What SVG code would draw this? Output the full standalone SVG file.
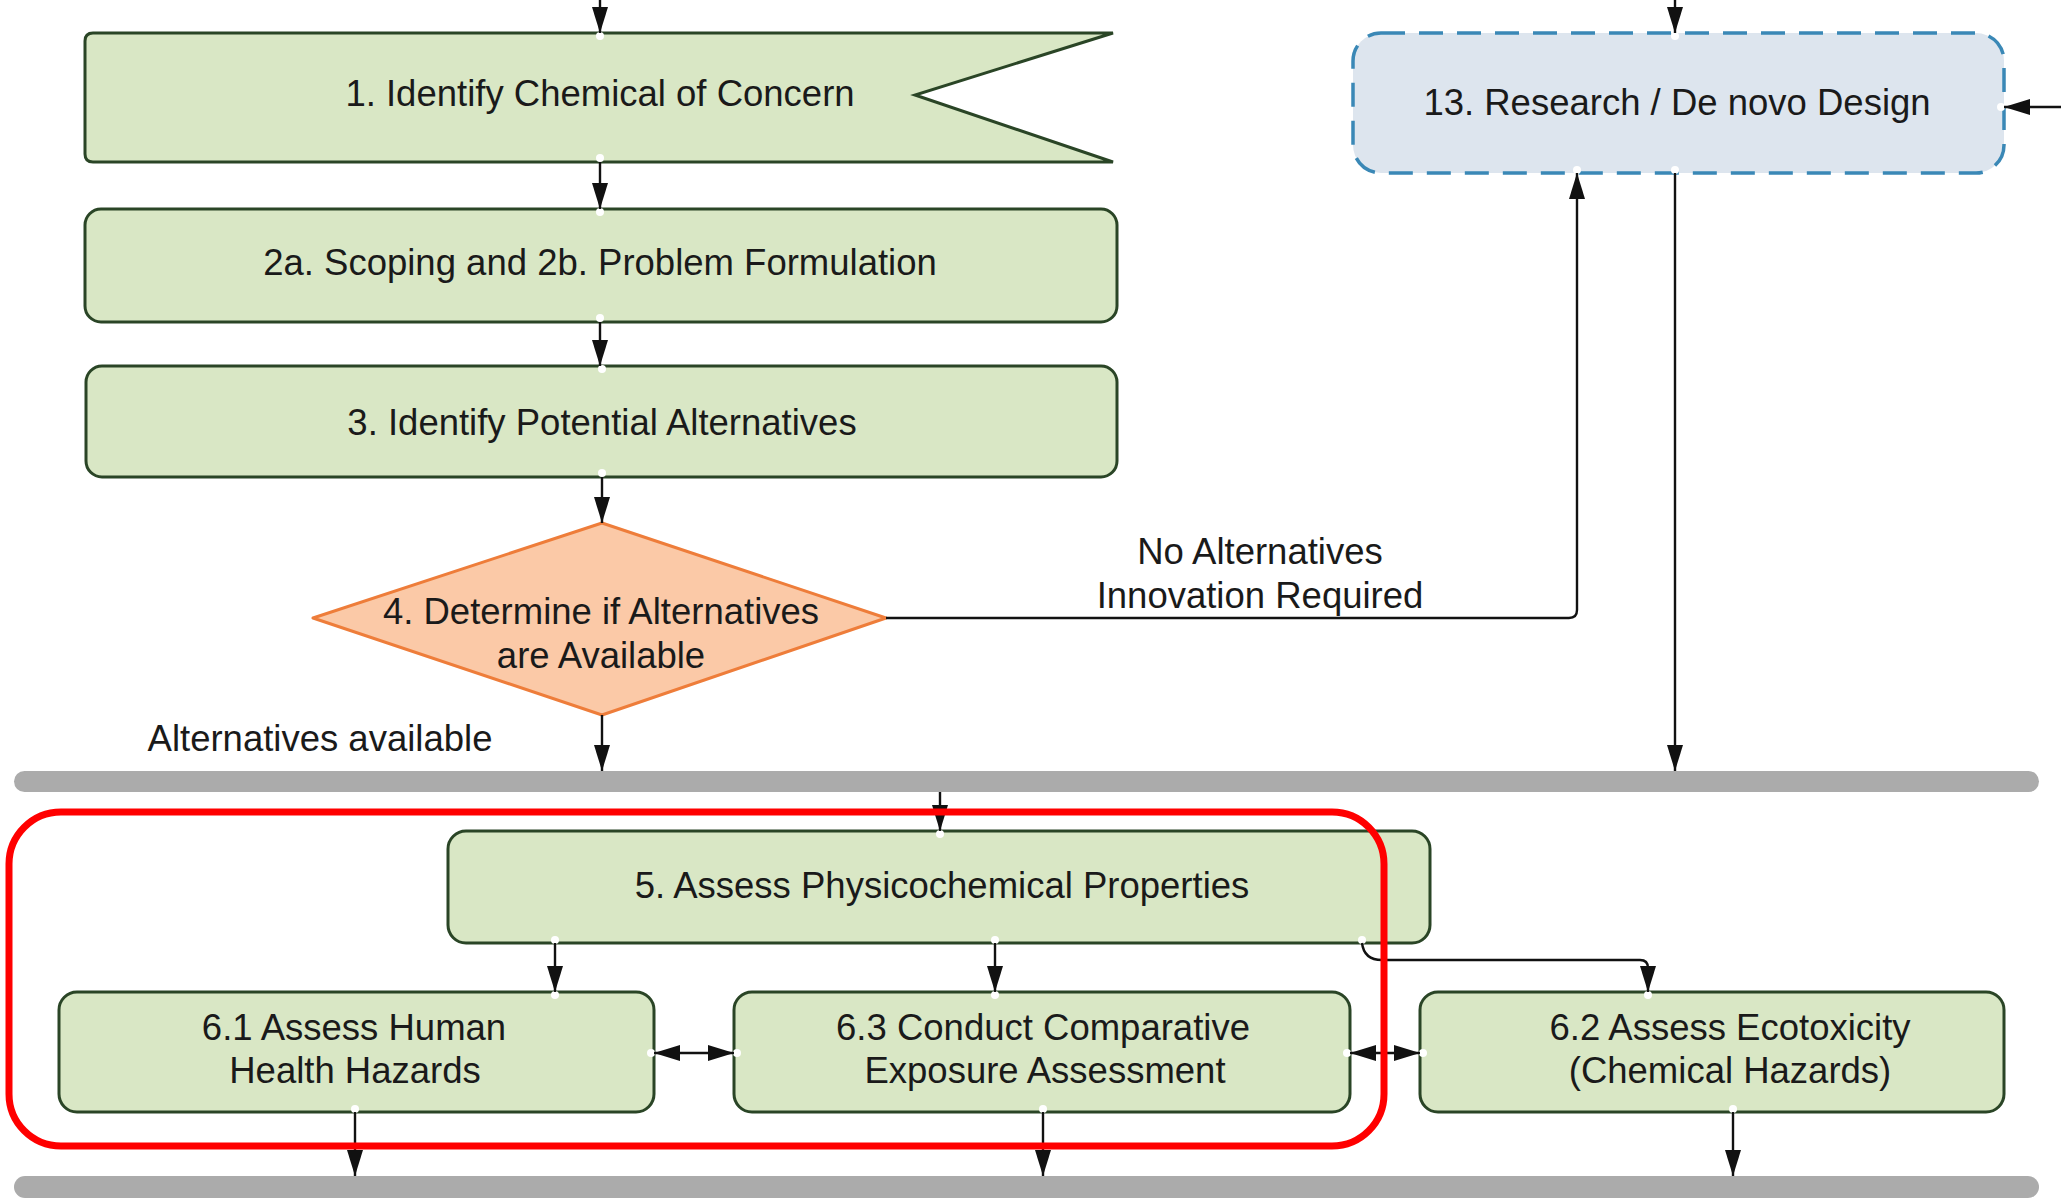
<svg xmlns="http://www.w3.org/2000/svg" width="2061" height="1201" viewBox="0 0 2061 1201">
<defs>
<marker id="ah" markerUnits="userSpaceOnUse" markerWidth="28" markerHeight="18" refX="26" refY="8" orient="auto-start-reverse" viewBox="0 0 28 16">
<path d="M0,0 L26,8 L0,16 Z" fill="#111"/>
</marker>
<style>
.nd{fill:#d9e7c5;stroke:#2a4526;stroke-width:3}
.dm{fill:#fbc9a7;stroke:#ee7d3a;stroke-width:3}
.rs{fill:#dde5ee;stroke:#3a88b6;stroke-width:3.5;stroke-dasharray:24 14}
.t{font-family:"Liberation Sans",Arial,sans-serif;font-size:36.5px;fill:#1a1a1a;text-anchor:middle}
.c{fill:none;stroke:#111;stroke-width:2.4}
.a{marker-end:url(#ah)}
.b{marker-start:url(#ah);marker-end:url(#ah)}
.bar{fill:#ababab}
.dot{fill:#fff}
</style>
</defs>
<rect width="2061" height="1201" fill="#fff"/>
<g id="bars">
<rect class="bar" x="14" y="771" width="2025" height="21" rx="10.5"/>
<rect class="bar" x="14" y="1176" width="2025" height="22" rx="11"/>
</g>
<g id="node1">
<path class="nd" d="M93,33 L1113,33 L915,95 L1113,162 L93,162 Q85,162 85,154 L85,41 Q85,33 93,33 Z"/>
<text class="t" x="600" y="106">1. Identify Chemical of Concern</text>
<circle class="dot" cx="600" cy="36" r="4"/><circle class="dot" cx="600" cy="158" r="4"/>
</g>
<g id="node2">
<rect class="nd" x="85" y="209" width="1032" height="113" rx="16"/>
<text class="t" x="600" y="275">2a. Scoping and 2b. Problem Formulation</text>
<circle class="dot" cx="600" cy="212" r="4"/><circle class="dot" cx="600" cy="318" r="4"/>
</g>
<g id="node3">
<rect class="nd" x="86" y="366" width="1031" height="111" rx="16"/>
<text class="t" x="602" y="435">3. Identify Potential Alternatives</text>
<circle class="dot" cx="602" cy="369" r="4"/><circle class="dot" cx="602" cy="473" r="4"/>
</g>
<g id="node4">
<path class="dm" d="M602,523 L886,618 L602,715 L313,618 Z" stroke-linejoin="round"/>
<text class="t" x="601" y="624">4. Determine if Alternatives</text>
<text class="t" x="601" y="668">are Available</text>
</g>
<g id="node13">
<rect class="rs" x="1353" y="33" width="651" height="140" rx="28"/>
<text class="t" x="1677" y="115">13. Research / De novo Design</text>
<circle class="dot" cx="1675" cy="36" r="4"/><circle class="dot" cx="1577" cy="170" r="4"/><circle class="dot" cx="1675" cy="170" r="4"/><circle class="dot" cx="2001" cy="107" r="4"/>
</g>
<g id="node5">
<rect class="nd" x="448" y="831" width="982" height="112" rx="18"/>
<text class="t" x="942" y="898">5. Assess Physicochemical Properties</text>
<circle class="dot" cx="940" cy="834" r="4"/><circle class="dot" cx="555" cy="940" r="4"/><circle class="dot" cx="995" cy="940" r="4"/><circle class="dot" cx="1362" cy="940" r="4"/>
</g>
<g id="node61">
<rect class="nd" x="59" y="992" width="595" height="120" rx="18"/>
<text class="t" x="354" y="1040">6.1 Assess Human</text>
<text class="t" x="355" y="1083">Health Hazards</text>
<circle class="dot" cx="555" cy="995" r="4"/><circle class="dot" cx="355" cy="1109" r="4"/><circle class="dot" cx="651" cy="1053" r="4"/>
</g>
<g id="node63">
<rect class="nd" x="734" y="992" width="616" height="120" rx="18"/>
<text class="t" x="1043" y="1040">6.3 Conduct Comparative</text>
<text class="t" x="1045" y="1083">Exposure Assessment</text>
<circle class="dot" cx="995" cy="995" r="4"/><circle class="dot" cx="1043" cy="1109" r="4"/><circle class="dot" cx="737" cy="1053" r="4"/><circle class="dot" cx="1347" cy="1053" r="4"/>
</g>
<g id="node62">
<rect class="nd" x="1420" y="992" width="584" height="120" rx="18"/>
<text class="t" x="1730" y="1040">6.2 Assess Ecotoxicity</text>
<text class="t" x="1730" y="1083">(Chemical Hazards)</text>
<circle class="dot" cx="1648" cy="995" r="4"/><circle class="dot" cx="1733" cy="1109" r="4"/><circle class="dot" cx="1423" cy="1053" r="4"/>
</g>
<g id="labels">
<text class="t" x="320" y="751">Alternatives available</text>
<text class="t" x="1260" y="564">No Alternatives</text>
<text class="t" x="1260" y="608">Innovation Required</text>
</g>
<g id="connectors">
<path class="c a" d="M600,0 L600,33"/>
<path class="c a" d="M600,162 L600,209"/>
<path class="c a" d="M600,322 L600,366"/>
<path class="c a" d="M602,477 L602,523"/>
<path class="c a" d="M602,715 L602,771"/>
<path class="c a" d="M886,618 L1569,618 Q1577,618 1577,610 L1577,173"/>
<path class="c a" d="M1675,0 L1675,33"/>
<path class="c a" d="M2061,107 L2004,107"/>
<path class="c a" d="M1675,173 L1675,771"/>
<path class="c a" d="M940,792 L940,831"/>
<path class="c a" d="M555,943 L555,992"/>
<path class="c a" d="M995,943 L995,992"/>
<path class="c a" d="M1362,943 Q1364,960 1382,960 L1640,960 Q1648,960 1648,968 L1648,992"/>
<path class="c b" d="M654,1053 L734,1053"/>
<path class="c b" d="M1350,1053 L1420,1053"/>
<path class="c a" d="M355,1112 L355,1176"/>
<path class="c a" d="M1043,1112 L1043,1176"/>
<path class="c a" d="M1733,1112 L1733,1176"/>
</g>
<g id="highlight">
<rect x="9" y="812" width="1375" height="334" rx="52" fill="none" stroke="#ff0000" stroke-width="7"/>
</g>
</svg>
